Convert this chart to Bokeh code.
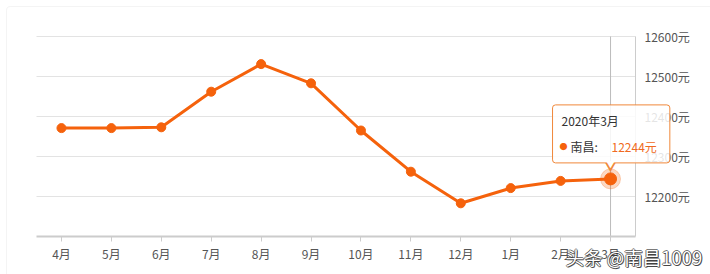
from bokeh.plotting import figure
from bokeh.models import (Range1d, FixedTicker, PrintfTickFormatter, LinearAxis,
                          Label, BoxAnnotation)
from bokeh.embed import file_html
from bokeh.resources import INLINE

# ---- data ----
months = ["4月", "5月", "6月", "7月", "8月", "9月", "10月", "11月", "12月", "1月", "2月", "3月"]
prices = [12371, 12371, 12373, 12462, 12531, 12483, 12365, 12262, 12183, 12221, 12239, 12244]
y_ticks = [12200, 12300, 12400, 12500, 12600]
y_min, y_max = 12100, 12600
tooltip_title = "2020年3月"
series_name = "南昌:"
unit = "元"
watermark = "头条 @南昌1009"

FONT = "Noto Sans CJK SC"
ORANGE = "#f5620c"

# ---- layout (pixels) ----
W, H = 710, 274
plot_l, plot_r, plot_t, plot_b = 36, 635, 36, 236
n = len(months)
xs = list(range(n))
px_per_cat = (plot_r - plot_l) / n
px_per_unit = (plot_b - plot_t) / (y_max - y_min)
x_lo, x_hi = -0.5, n - 0.5
x_start = x_lo - plot_l / px_per_cat
x_end = x_hi + (W - plot_r) / px_per_cat
y_end = y_max + plot_t / px_per_unit
y_start = y_min - (H - plot_b) / px_per_unit

p = figure(width=W, height=H,
           x_range=Range1d(x_start, x_end), y_range=Range1d(y_start, y_end),
           x_axis_location=None, y_axis_location=None,
           output_backend="svg", toolbar_location=None,
           min_border=0, min_border_left=0, min_border_right=0,
           min_border_top=0, min_border_bottom=0)
p.outline_line_color = None
p.background_fill_color = "white"
p.border_fill_color = "white"
p.xgrid.visible = False
p.ygrid.visible = False

# card border
p.add_layout(BoxAnnotation(left=6, right=W + 60, top=H - 6, bottom=-60,
                           left_units="screen", right_units="screen",
                           top_units="screen", bottom_units="screen",
                           fill_alpha=0, line_color="#dcdcdc", line_width=1,
                           border_radius=4, level="underlay"))

# horizontal grid lines
p.segment(x0=[x_lo] * len(y_ticks), x1=[x_hi] * len(y_ticks), y0=y_ticks, y1=y_ticks,
          line_color="#e3e3e3", line_width=1)

# x axis (bottom)
xa = LinearAxis(fixed_location=y_min, bounds=(x_lo, x_hi),
                ticker=FixedTicker(ticks=xs),
                major_label_overrides={i: m for i, m in enumerate(months)})
xa.axis_line_color = "#cccccc"
xa.axis_line_width = 2
xa.major_tick_line_color = "#cccccc"
xa.major_tick_out = 5
xa.major_tick_in = 0
xa.minor_tick_line_color = None
xa.major_label_text_font = FONT
xa.major_label_text_font_size = "12px"
xa.major_label_text_color = "#555555"
xa.major_label_standoff = 3
p.add_layout(xa, "below")

# y axis (right)
ya = LinearAxis(fixed_location=x_hi, bounds=(y_min, y_max),
                ticker=FixedTicker(ticks=y_ticks),
                formatter=PrintfTickFormatter(format="%d" + unit))
ya.axis_line_color = "#cccccc"
ya.major_tick_out = 0
ya.major_tick_in = 0
ya.minor_tick_line_color = None
ya.major_label_text_font = FONT
ya.major_label_text_font_size = "12px"
ya.major_label_text_color = "#555555"
ya.major_label_standoff = 9
p.add_layout(ya, "right")

# crosshair at last month
p.segment(x0=[xs[-1]], y0=[y_min], x1=[xs[-1]], y1=[y_max],
          line_color="#bbbbbb", line_width=1)

# series
p.line(xs, prices, line_color=ORANGE, line_width=3)
p.scatter(xs[:-1], prices[:-1], size=9, color=ORANGE)
p.scatter([xs[-1]], [prices[-1]], size=20, color=ORANGE, alpha=0.25)
p.scatter([xs[-1]], [prices[-1]], size=12, color=ORANGE)

# tooltip anchored at last point
lx, ly = xs[-1], prices[-1]
p.add_layout(Label(x=lx, y=ly, x_offset=-58, y_offset=74, text=tooltip_title,
                   text_align="left", text_baseline="top",
                   text_font=FONT, text_font_size="12px", text_color="#333333",
                   background_fill_color="white", background_fill_alpha=0.85,
                   border_line_color="#f0883a", border_line_width=1, border_radius=3,
                   padding=(9, 51, 7, 34)))
p.add_layout(Label(x=lx, y=ly, x_offset=0, y_offset=12, text="▼",
                   text_align="center", text_baseline="middle",
                   text_font=FONT, text_font_size="11px", text_color="#f0883a"))
p.add_layout(Label(x=lx, y=ly, x_offset=0, y_offset=14, text="▼",
                   text_align="center", text_baseline="middle",
                   text_font=FONT, text_font_size="9px", text_color="white"))
p.add_layout(Label(x=lx, y=ly, x_offset=-47, y_offset=32, text="●",
                   text_align="center", text_baseline="middle",
                   text_font=FONT, text_font_size="8px", text_color=ORANGE))
p.add_layout(Label(x=lx, y=ly, x_offset=-40, y_offset=32, text=series_name,
                   text_align="left", text_baseline="middle",
                   text_font=FONT, text_font_size="12px", text_color="#333333"))
p.add_layout(Label(x=lx, y=ly, x_offset=1, y_offset=32, text=f"{prices[-1]}{unit}",
                   text_align="left", text_baseline="middle",
                   text_font=FONT, text_font_size="12px", text_color="#f06a22"))

# watermark
wm_x, wm_y = 565, H - 256
for dx, dy in [(-1, 0), (1, 0), (0, -1), (0, 1), (1, -1)]:
    p.add_layout(Label(x=wm_x + dx, y=wm_y + dy, x_units="screen", y_units="screen",
                       text=watermark, text_align="left", text_baseline="middle",
                       text_font=FONT, text_font_size="18.5px",
                       text_color="#222222", text_alpha=0.6))
p.add_layout(Label(x=wm_x, y=wm_y, x_units="screen", y_units="screen",
                   text=watermark, text_align="left", text_baseline="middle",
                   text_font=FONT, text_font_size="18.5px", text_color="white"))

open("out.html", "w").write(file_html(p, INLINE))
